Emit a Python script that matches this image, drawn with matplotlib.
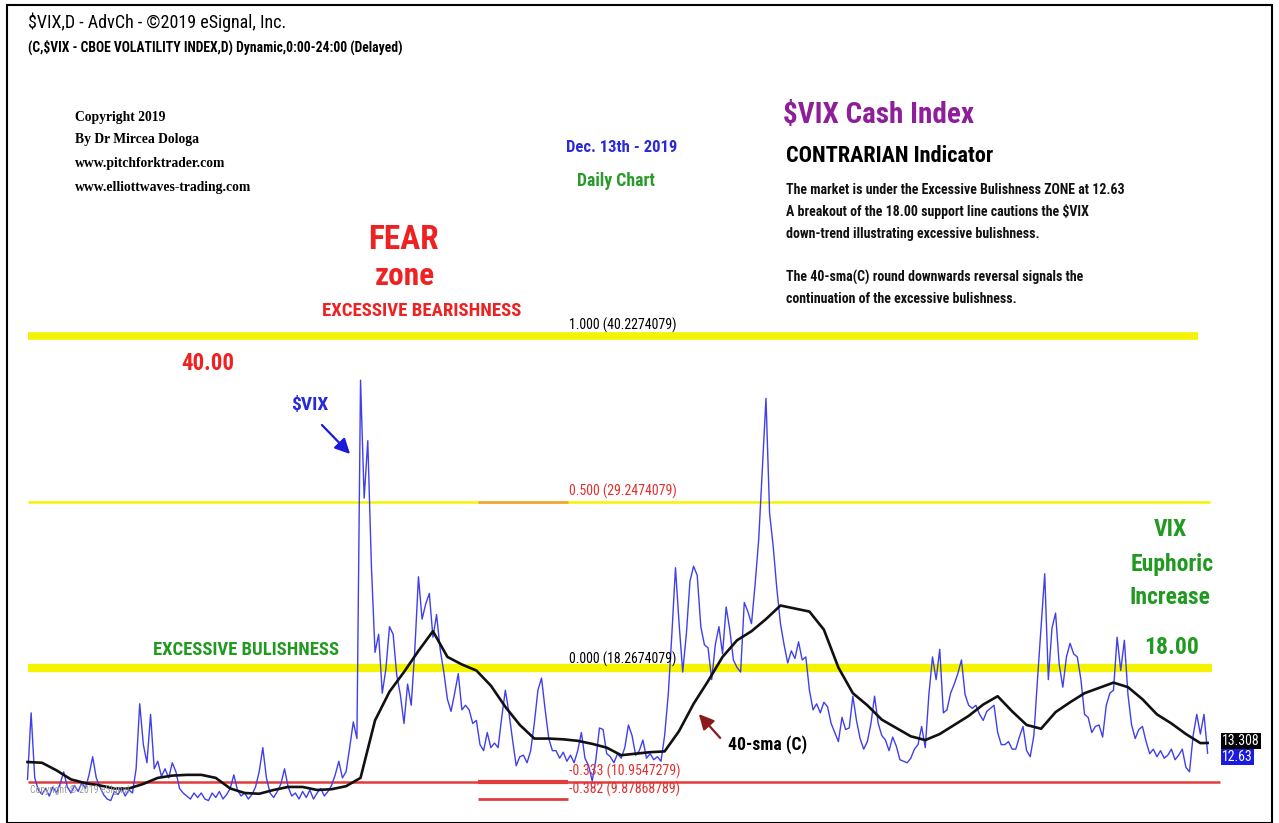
import numpy as np
import matplotlib
matplotlib.use('Agg')
import matplotlib.pyplot as plt
from matplotlib.patches import Rectangle

# daily $VIX closes, sampled every 2nd session (May 2017 - Dec 13 2019)
vix = [10.9, 15.3, 11.0, 10.2, 9.9, 10.3, 9.8, 10.4, 10.0, 10.6,
       11.4, 10.4, 10.0, 10.5, 10.1, 10.7, 10.3, 11.2, 12.4, 11.0,
       10.4, 9.9, 9.6, 9.5, 10.1, 9.9, 10.3, 9.8, 10.2, 10.0,
       11.6, 15.9, 13.2, 12.0, 15.2, 11.6, 12.1, 11.1, 11.6, 11.0,
       12.0, 11.4, 10.3, 10.0, 9.8, 9.6, 10.0, 9.7, 10.0, 9.6,
       9.5, 10.0, 9.7, 10.1, 9.6, 9.9, 10.3, 11.2, 10.2, 9.8,
       10.0, 9.6, 9.9, 10.4, 11.4, 13.0, 11.0, 10.0, 9.7, 10.1,
       10.6, 11.6, 10.4, 9.8, 10.0, 9.6, 10.1, 9.7, 10.2, 9.6,
       10.0, 10.3, 9.8, 10.1, 10.5, 11.2, 12.1, 11.0, 11.4, 13.0,
       14.7, 13.6,
       37.3, 29.5, 33.3, 25.0, 19.3, 20.5, 16.6, 18.2, 21.0, 20.5,
       17.8, 16.5, 14.6, 17.2, 15.8, 19.5, 24.3,
       21.5, 22.5, 23.2, 20.3, 21.8, 19.5, 18.0, 16.2, 15.4, 16.6,
       17.9, 15.5, 15.8, 15.5, 14.6, 14.8, 13.2, 12.8, 14.0, 13.0,
       13.3, 13.0, 15.0, 16.8, 15.3, 13.5, 11.8, 12.4, 12.5, 12.0,
       12.8, 14.6, 16.8, 17.6, 15.5, 13.6, 12.8, 12.8, 12.3, 12.7,
       12.1, 12.5, 12.0, 12.8, 14.0, 12.3, 11.8, 10.8, 12.2, 14.3,
       14.2, 12.6, 12.4,
       12.0, 12.6, 12.3, 13.0, 14.5, 13.8, 12.5, 12.8, 13.5, 12.3,
       12.6, 12.2, 12.4, 12.1,
       13.8, 16.5, 20.5, 24.9, 21.2, 18.0, 20.5, 24.0, 25.0, 24.4,
       21.0, 19.8, 19.6, 17.5, 19.8, 21.0, 19.2, 22.3, 20.8, 18.8,
       18.3, 18.0, 22.6, 22.0, 21.2, 23.8, 26.8, 31.5, 36.1, 28.5,
       26.3, 23.5, 21.2, 19.8, 18.6, 19.4, 18.9, 20.0, 18.8, 19.0,
       16.8, 15.5, 15.9, 15.3, 16.0, 15.7, 14.6, 14.0, 13.4, 15.0,
       14.2, 14.3, 16.4, 14.8, 13.6, 12.9, 13.4, 14.6, 16.4, 14.6,
       13.8, 13.5, 12.8, 13.7, 13.1, 12.2, 12.1, 12.0, 12.3, 12.9,
       13.2, 14.4, 13.0, 16.5, 19.0, 17.5, 19.5, 15.3, 15.5, 16.6,
       17.2, 17.9, 18.8, 16.5, 15.8, 15.6, 15.8, 15.2, 14.8, 15.4,
       15.6, 15.8, 14.0,
       13.2, 13.2, 13.4, 12.9, 12.9, 13.7, 14.4, 12.8, 12.4, 13.8,
       17.5, 21.0, 24.5, 17.5, 20.9, 21.9, 18.5, 17.0, 19.0, 19.9,
       19.2, 19.0, 17.5, 15.2, 15.0, 14.0, 14.4, 14.5, 13.7, 15.8,
       16.6, 16.8, 20.3, 18.1, 20.1, 16.5, 14.5, 13.6, 14.2, 14.4,
       13.4, 12.6, 12.9, 12.4, 12.8, 12.3, 12.5, 12.9, 12.2, 12.5,
       12.9, 11.7, 11.4, 13.8, 15.2, 13.9, 15.2, 12.63]

# 40-sma(C), read every 4th sample
sma_idx = list(range(0, 325, 4)) + [326]
sma = [12.05, 12.0, 11.5, 10.9, 10.65, 10.5, 10.3, 10.3, 10.6, 11.0,
       11.15, 11.2, 11.2, 11.0, 10.3, 10.0, 9.95, 10.2, 10.4, 10.4,
       10.2, 10.25, 10.45, 11.0, 14.8, 16.7, 18.0, 19.4, 20.7, 19.0,
       18.5, 18.1, 17.1, 15.7, 14.5, 13.6, 13.6, 13.55, 13.45, 13.25,
       13.0, 12.5, 12.6, 12.7, 12.75, 14.1, 15.9, 17.4, 19.0, 20.1,
       20.7, 21.5, 22.4, 22.2, 22.0, 20.8, 18.3, 16.6, 15.8, 14.85,
       14.3, 13.75, 13.5, 13.9, 14.5, 15.1, 15.85, 16.4, 15.4, 14.5,
       14.25, 15.35, 16.0, 16.6, 16.95, 17.3, 17.0, 16.2, 15.2, 14.6,
       13.9, 13.3, 13.31]

# fib levels
fib_ratio = ['1.000', '0.500', '0.000', '-0.333', '-0.382']
fib_text = ['40.2274079', '29.2474079', '18.2674079', '10.9547279', '9.87868789']
fib_value = [float(v) for v in fib_text]

W, H = 1279, 823
fig = plt.figure(figsize=(W / 100, H / 100), dpi=100)
fig.patch.set_facecolor('white')
ax = fig.add_axes([0, 0, 1, 1])
ax.axis('off')
# pixel x = 27.5 + 3.62*i ; pixel y = 668 - (v - 18.267)*15.12
ax.set_xlim(-27.5 / 3.62, (W - 27.5) / 3.62)
ax.set_ylim(18.267 - (H - 668) / 15.12, 18.267 + 668 / 15.12)

def kx(px):
    return (px - 27.5) / 3.62

# level lines
ax.hlines(fib_value[0], kx(28), kx(1198), color='#f4f400', lw=5.5, zorder=1)
ax.hlines(fib_value[1], kx(28), kx(1210), color='#f4f400', lw=1.8, zorder=1)
ax.hlines(fib_value[1], kx(478), kx(568), color='#f0a040', lw=1.8, zorder=1)
ax.hlines(fib_value[2], kx(28), kx(1212), color='#f4f400', lw=6, zorder=1)
ax.hlines(fib_value[3] - 0.2, kx(28), kx(1220), color='#e03c3c', lw=1.8, zorder=1)
ax.hlines(fib_value[3] - 0.2, kx(478), kx(568), color='#e03c3c', lw=3, zorder=1)
ax.hlines(fib_value[4] - 0.25, kx(478), kx(568), color='#e03c3c', lw=2, zorder=1)

x = np.arange(len(vix))
ax.plot(x, vix, color='#3f3fec', lw=1.0, zorder=3)
ax.plot(sma_idx, sma, color='#111111', lw=1.9, zorder=4)

narrow = ['Roboto Condensed', 'Liberation Sans', 'DejaVu Sans']
serif = ['Liberation Serif', 'DejaVu Serif']

def t(px, py, s, **kw):
    kw.setdefault('va', 'center')
    kw.setdefault('family', narrow)
    fig.text(px / W, 1 - py / H, s, **kw)

t(28, 22, '$VIX,D - AdvCh - \u00a92019 eSignal, Inc.', fontsize=13)
t(28, 47, '(C,$VIX - CBOE VOLATILITY INDEX,D) Dynamic,0:00-24:00 (Delayed)',
  fontsize=9.8, weight='bold')

for yy, s in zip([117, 139, 164, 187],
                 ['Copyright 2019', 'By Dr Mircea Dologa',
                  'www.pitchforktrader.com', 'www.elliottwaves-trading.com']):
    t(75, yy, s, fontsize=9.8, weight='bold', family=serif)

t(622, 147, 'Dec. 13th - 2019', fontsize=12, weight='bold', color='#2a2ad8', ha='center')
t(616, 181, 'Daily Chart', fontsize=12.8, weight='bold', color='#2a9a2a', ha='center')

t(403, 240, 'FEAR', fontsize=24, weight='bold', color='#ee2222', ha='center')
t(405, 276, 'zone', fontsize=22.5, weight='bold', color='#ee2222', ha='center')
t(422, 311, 'EXCESSIVE BEARISHNESS', fontsize=13.5, weight='bold', color='#ee2222', ha='center')
t(208, 364, '40.00', fontsize=16.5, weight='bold', color='#ee2222', ha='center')

t(310, 405, '$VIX', fontsize=14, weight='bold', color='#2a2ad8', ha='center')
ax.annotate('', xy=(352, H - 456), xytext=(320, H - 423),
            xycoords='figure pixels', textcoords='figure pixels',
            arrowprops=dict(arrowstyle='-|>,head_length=0.9,head_width=0.45',
                            color='#1a1ad8', lw=1.6))

t(246, 650, 'EXCESSIVE BULISHNESS', fontsize=13.4, weight='bold', color='#229a22', ha='center')

# fib labels
fib_y = [325, 491, 659, 771, 789]
fib_col = ['black', '#e03030', 'black', '#e03030', '#e03030']
for r, v, yy, c in zip(fib_ratio, fib_text, fib_y, fib_col):
    t(569, yy, '%s (%s)' % (r, v), fontsize=10, color=c)

t(728, 745, '40-sma (C)', fontsize=12.7, weight='bold', color='black')
ax.annotate('', xy=(697, H - 712), xytext=(722, H - 740),
            xycoords='figure pixels', textcoords='figure pixels',
            arrowprops=dict(arrowstyle='-|>,head_length=0.9,head_width=0.45',
                            color='#8b1a1a', lw=1.6))

t(783, 115, '$VIX Cash Index', fontsize=21, weight='bold', color='#8e1e9a')
t(786, 156, 'CONTRARIAN Indicator', fontsize=16, weight='bold', color='black')
para = ['The market is under the Excessive Bulishness ZONE at 12.63',
        'A breakout of the 18.00 support line cautions the $VIX',
        'down-trend illustrating excessive bulishness.',
        '',
        'The 40-sma(C) round downwards reversal signals the',
        'continuation of the excessive bulishness.']
for i, s in enumerate(para):
    t(786, 190 + i * 21.8, s, fontsize=10, weight='bold', color='#111111')

t(1170, 530, 'VIX', fontsize=17, weight='bold', color='#229a22', ha='center')
t(1172, 564, 'Euphoric', fontsize=17, weight='bold', color='#229a22', ha='center')
t(1170, 598, 'Increase', fontsize=17, weight='bold', color='#229a22', ha='center')
t(1172, 647, '18.00', fontsize=17, weight='bold', color='#229a22', ha='center')

t(1222, 741, '13.308', fontsize=10, color='white',
  bbox=dict(boxstyle='square,pad=0.1', fc='black', ec='none'))
t(1222, 757, '12.63', fontsize=10, color='white',
  bbox=dict(boxstyle='square,pad=0.1', fc='#1a1ae0', ec='none'))

t(30, 790, 'Copyright \u00a9 2019 eSignal', fontsize=7, color='#999999')

fig.patches.append(Rectangle((7 / W, 0), (1272 - 7) / W, 1 - 5 / H,
                             transform=fig.transFigure, fill=False,
                             ec='black', lw=1.5))

fig.savefig('out.png', dpi=100, facecolor='white')
